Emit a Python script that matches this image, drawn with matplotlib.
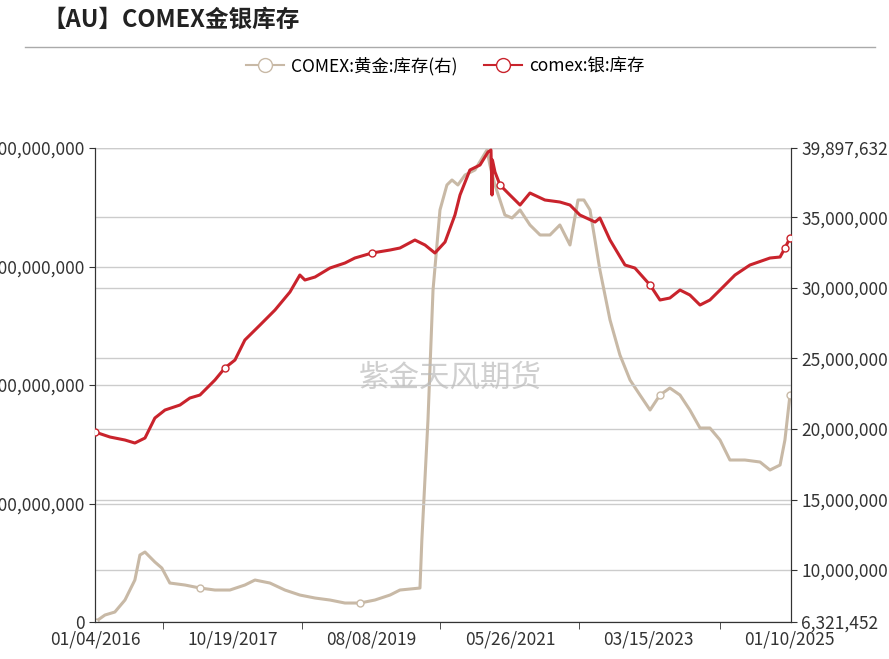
import numpy as np
import matplotlib
matplotlib.use("Agg")
import matplotlib.pyplot as plt
import datetime as dt
from matplotlib.ticker import FuncFormatter
from matplotlib.lines import Line2D

plt.rcParams['font.family'] = ['Noto Sans CJK SC', 'DejaVu Sans']

START = dt.date(2016, 1, 4)
PX_PER_DAY = 0.2107

# silver (left axis), read as pixel positions off the reference
silver_x = [95, 110, 125, 135, 145, 155, 165, 180, 190, 200, 215, 225, 235, 245, 260, 275, 290, 300,
            305, 315, 330, 345, 355, 372, 390, 400, 415, 425, 435, 445, 455, 460, 470, 480, 488, 491,
            492, 492.5, 495, 500, 510, 520, 530, 545, 560, 570, 580, 595, 600, 610, 625, 635, 650, 660,
            670, 680, 690, 700, 710, 720, 735, 750, 770, 780, 785, 790]
silver_y = [432, 437, 440, 443, 438, 418, 410, 405, 398, 395, 380, 368, 360, 340, 325, 310, 292, 275,
            280, 277, 268, 263, 258, 253, 250, 248, 240, 245, 253, 242, 215, 195, 170, 165, 152, 150,
            195, 160, 172, 185, 195, 205, 193, 200, 202, 205, 215, 222, 218, 240, 265, 268, 285, 300,
            298, 290, 295, 305, 300, 290, 275, 265, 258, 257, 248, 238]

# gold (right axis)
gold_x = [95, 105, 115, 125, 135, 140, 145, 155, 162, 170, 185, 200, 215, 230, 245, 255, 270, 285,
          300, 315, 330, 345, 360, 375, 390, 400, 420, 422, 428, 433, 440, 447, 452, 458, 465, 475,
          487, 490, 495, 505, 512, 520, 530, 540, 550, 560, 570, 578, 584, 590, 600, 610, 620, 630,
          640, 650, 660, 670, 680, 690, 700, 710, 720, 730, 745, 760, 770, 780, 785, 790]
gold_y = [622, 615, 612, 600, 580, 555, 552, 562, 568, 583, 585, 588, 590, 590, 585, 580, 583, 590,
          595, 598, 600, 603, 603, 600, 595, 590, 588, 540, 420, 290, 210, 185, 180, 185, 175, 170,
          150, 165, 185, 215, 218, 210, 225, 235, 235, 225, 245, 200, 200, 210, 270, 320, 355, 380,
          395, 410, 395, 388, 395, 410, 428, 428, 440, 460, 460, 462, 470, 465, 440, 395]

silver_dates = [START + dt.timedelta(days=(x - 95) / PX_PER_DAY) for x in silver_x]
silver_vals = [(622 - y) / 474 * 400e6 for y in silver_y]
gold_dates = [START + dt.timedelta(days=(x - 95) / PX_PER_DAY) for x in gold_x]
gold_vals = [6321452 + (622 - y) / 14.116 * 1e6 for y in gold_y]

tick_labels = ['01/04/2016', '10/19/2017', '08/08/2019', '05/26/2021', '03/15/2023', '01/10/2025']
tick_dates = [dt.datetime.strptime(s, '%m/%d/%Y').date() for s in tick_labels]

RED = '#c9232c'
BEIGE = '#c8b9a6'

fig = plt.figure(figsize=(8.89, 6.59), dpi=100)
ax = fig.add_axes([0.1069, 0.0561, 0.7829, 0.7193])
ax2 = ax.twinx()

ax2.plot(gold_dates, gold_vals, color=BEIGE, lw=2.2, marker='o', mfc='white', ms=5,
         markevery=[0, 11, 22, 56, len(gold_x) - 1], zorder=2)
ax.plot(silver_dates, silver_vals, color=RED, lw=2.2, marker='o', mfc='white', ms=5,
        markevery=[0, 11, 23, 39, 52, len(silver_x) - 2, len(silver_x) - 1], zorder=3)
ax.set_zorder(ax2.get_zorder() + 1)
ax.patch.set_visible(False)

end = START + dt.timedelta(days=(791 - 95) / PX_PER_DAY)
ax.set_xlim(START, end)
ax.set_ylim(0, 400e6)
ax2.set_ylim(6321452, 39897632)

ax.set_yticks([0, 100e6, 200e6, 300e6, 400e6])
ax.yaxis.set_major_formatter(FuncFormatter(lambda v, p: f'{v:,.0f}'))
ax2.set_yticks([6321452, 10e6, 15e6, 20e6, 25e6, 30e6, 35e6, 39897632])
ax2.yaxis.set_major_formatter(FuncFormatter(lambda v, p: f'{v:,.0f}'))

ax.set_xticks(tick_dates)
ax.set_xticklabels(tick_labels)
ax.tick_params(axis='x', length=0, labelsize=12.5, colors='#333333', pad=6)
ax.set_xticks([START] + [d - dt.timedelta(days=330) for d in tick_dates[1:]], minor=True)
ax.tick_params(axis='x', which='minor', length=5, color='#333333')
ax.tick_params(axis='y', labelsize=12.5, colors='#333333', length=4)
ax2.tick_params(axis='y', labelsize=12.5, colors='#333333', length=4)

ax.grid(axis='y', color='#cccccc', lw=1)
ax2.grid(axis='y', color='#cccccc', lw=1)
for a in (ax, ax2):
    a.spines['top'].set_visible(False)
    for s in ['left', 'right', 'bottom']:
        a.spines[s].set_color('#333333')

fig.text(450 / 889, 1 - 378 / 659, '紫金天风期货', fontsize=22, color='#bbbbbb', alpha=0.7,
         ha='center', va='center')
fig.text(42 / 889, 1 - 20 / 659, '【AU】COMEX金银库存', fontsize=17, fontweight='bold',
         color='#222222', ha='left', va='center')
fig.add_artist(Line2D([25 / 889, 875 / 889], [1 - 47 / 659] * 2, color='#aaaaaa', lw=1))

handles = [Line2D([], [], color=BEIGE, lw=1.5, marker='o', mfc='white', ms=10),
           Line2D([], [], color=RED, lw=1.5, marker='o', mfc='white', ms=10)]
fig.legend(handles, ['COMEX:黄金:库存(右)', 'comex:银:库存'], loc='center',
           bbox_to_anchor=(445 / 889, 1 - 66 / 659), ncol=2, frameon=False, fontsize=12.5,
           handlelength=2.2, columnspacing=1.5, handletextpad=0.4)

fig.savefig('out.png', dpi=100)
